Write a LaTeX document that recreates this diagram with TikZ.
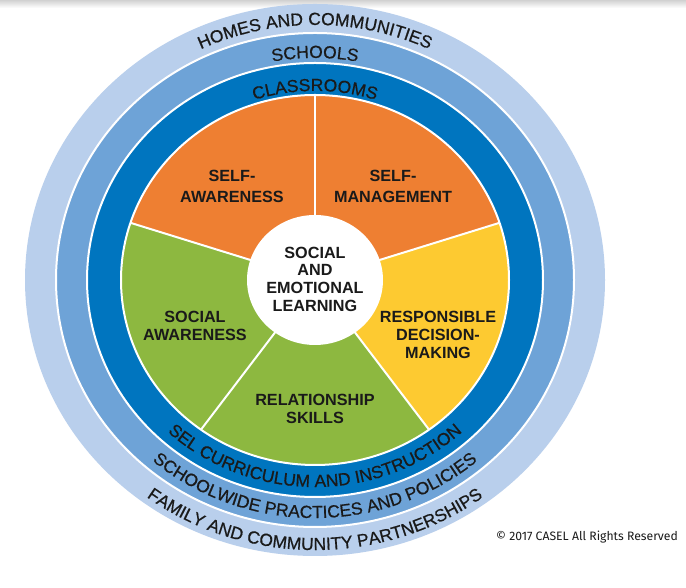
\documentclass[tikz,border=0pt]{standalone}
\usepackage{fontspec}
\setsansfont{Liberation Sans}
\newfontfamily\copyfont{Fira Sans}
\newfontfamily\ringfam{Liberation Sans}[FakeBold=0.6]
\usetikzlibrary{decorations.text,calc}
\definecolor{ringlight}{HTML}{B9CFEC}
\definecolor{ringmed}{HTML}{6EA3D7}
\definecolor{ringdark}{HTML}{0075BF}
\definecolor{segorange}{HTML}{EE7F32}
\definecolor{seggreen}{HTML}{8DB840}
\definecolor{segyellow}{HTML}{FDCA31}
\definecolor{inktext}{HTML}{1A1A1A}
\newcommand\ringfont{\ringfam\fontsize{17.5}{20}\selectfont\color{inktext}}
\begin{document}
\begin{tikzpicture}[x=1pt,y=1pt,
  lab/.style={font=\sffamily\bfseries\fontsize{16.2}{17.7}\selectfont, align=center, text=inktext, inner sep=0pt},
  toplab/.style={lab, font=\sffamily\bfseries\fontsize{16.2}{21}\selectfont},
  sep/.style={white, line width=2pt},
  ringsep/.style={white, line width=2pt},
  ringtext/.style={decorate, decoration={text along path, text align=center, text={#1}}}
]
\useasboundingbox (0,0) rectangle (686,588);
\fill[white] (0,0) rectangle (686,588);
\shade[top color=black!18, bottom color=white] (0,580) rectangle (686,588);
\coordinate (C) at (315,308);
% rings
\fill[ringlight] (C) ellipse [x radius=290, y radius=276];
\draw[ringsep, fill=ringmed] (C) ellipse [x radius=259, y radius=247];
\draw[ringsep, fill=ringdark] (C) ellipse [x radius=228, y radius=217];
% pie segments
\fill[segorange] (C) -- ($(C)+(90:194 and 185)$) arc[start angle=90, end angle=18, x radius=194, y radius=185] -- cycle;
\fill[segyellow] (C) -- ($(C)+(18:194 and 185)$) arc[start angle=18, end angle=-54, x radius=194, y radius=185] -- cycle;
\fill[seggreen] (C) -- ($(C)+(-54:194 and 185)$) arc[start angle=-54, end angle=-126, x radius=194, y radius=185] -- cycle;
\fill[seggreen] (C) -- ($(C)+(-126:194 and 185)$) arc[start angle=-126, end angle=-198, x radius=194, y radius=185] -- cycle;
\fill[segorange] (C) -- ($(C)+(162:194 and 185)$) arc[start angle=162, end angle=90, x radius=194, y radius=185] -- cycle;
\draw[sep] (C) ellipse [x radius=194, y radius=185];
\foreach \a in {90,18,-54,-126,162} {
  \draw[sep] (C) -- ($(C)+(\a:194 and 185)$);
}
\fill[white] (C) ellipse [x radius=68, y radius=65];
% ring texts (top)
\path[ringtext={|\ringfont|HOMES AND COMMUNITIES}] ($(C)+(160:268 and 255)$) arc[start angle=160, end angle=20, x radius=268, y radius=255];
\path[ringtext={|\ringfont|SCHOOLS}] ($(C)+(160:233 and 222)$) arc[start angle=160, end angle=20, x radius=233, y radius=222];
\path[ringtext={|\ringfont|CLASSROOMS}] ($(C)+(160:199 and 189)$) arc[start angle=160, end angle=20, x radius=199, y radius=189];
% ring texts (bottom)
\path[ringtext={|\ringfont|SEL CURRICULUM AND INSTRUCTION}] ($(C)+(195:217 and 207)$) arc[start angle=195, end angle=345, x radius=217, y radius=207];
\path[ringtext={|\ringfont|SCHOOLWIDE PRACTICES AND POLICIES}] ($(C)+(195:250 and 238)$) arc[start angle=195, end angle=345, x radius=250, y radius=238];
\path[ringtext={|\ringfont|FAMILY AND COMMUNITY PARTNERSHIPS}] ($(C)+(195:283 and 270)$) arc[start angle=195, end angle=345, x radius=283, y radius=270];
% labels
\node[toplab] (sa) at (232,402) {SELF-\\AWARENESS};
\node[toplab] (sm) at (393,402) {SELF-\\MANAGEMENT};
\node[lab] (rdm) at (438,253) {RESPONSIBLE\\DECISION-\\MAKING};
\node[lab] (soa) at (195,262) {SOCIAL\\AWARENESS};
\node[lab] (rs) at (315,179) {RELATIONSHIP\\SKILLS};
\node[lab] (sel) at (315,309) {SOCIAL\\AND\\EMOTIONAL\\LEARNING};
\node[font=\copyfont\fontsize{12.2}{14}\selectfont, text=inktext, inner sep=0pt] (copy) at (587,51) {© 2017 CASEL All Rights Reserved};
\end{tikzpicture}
\end{document}
